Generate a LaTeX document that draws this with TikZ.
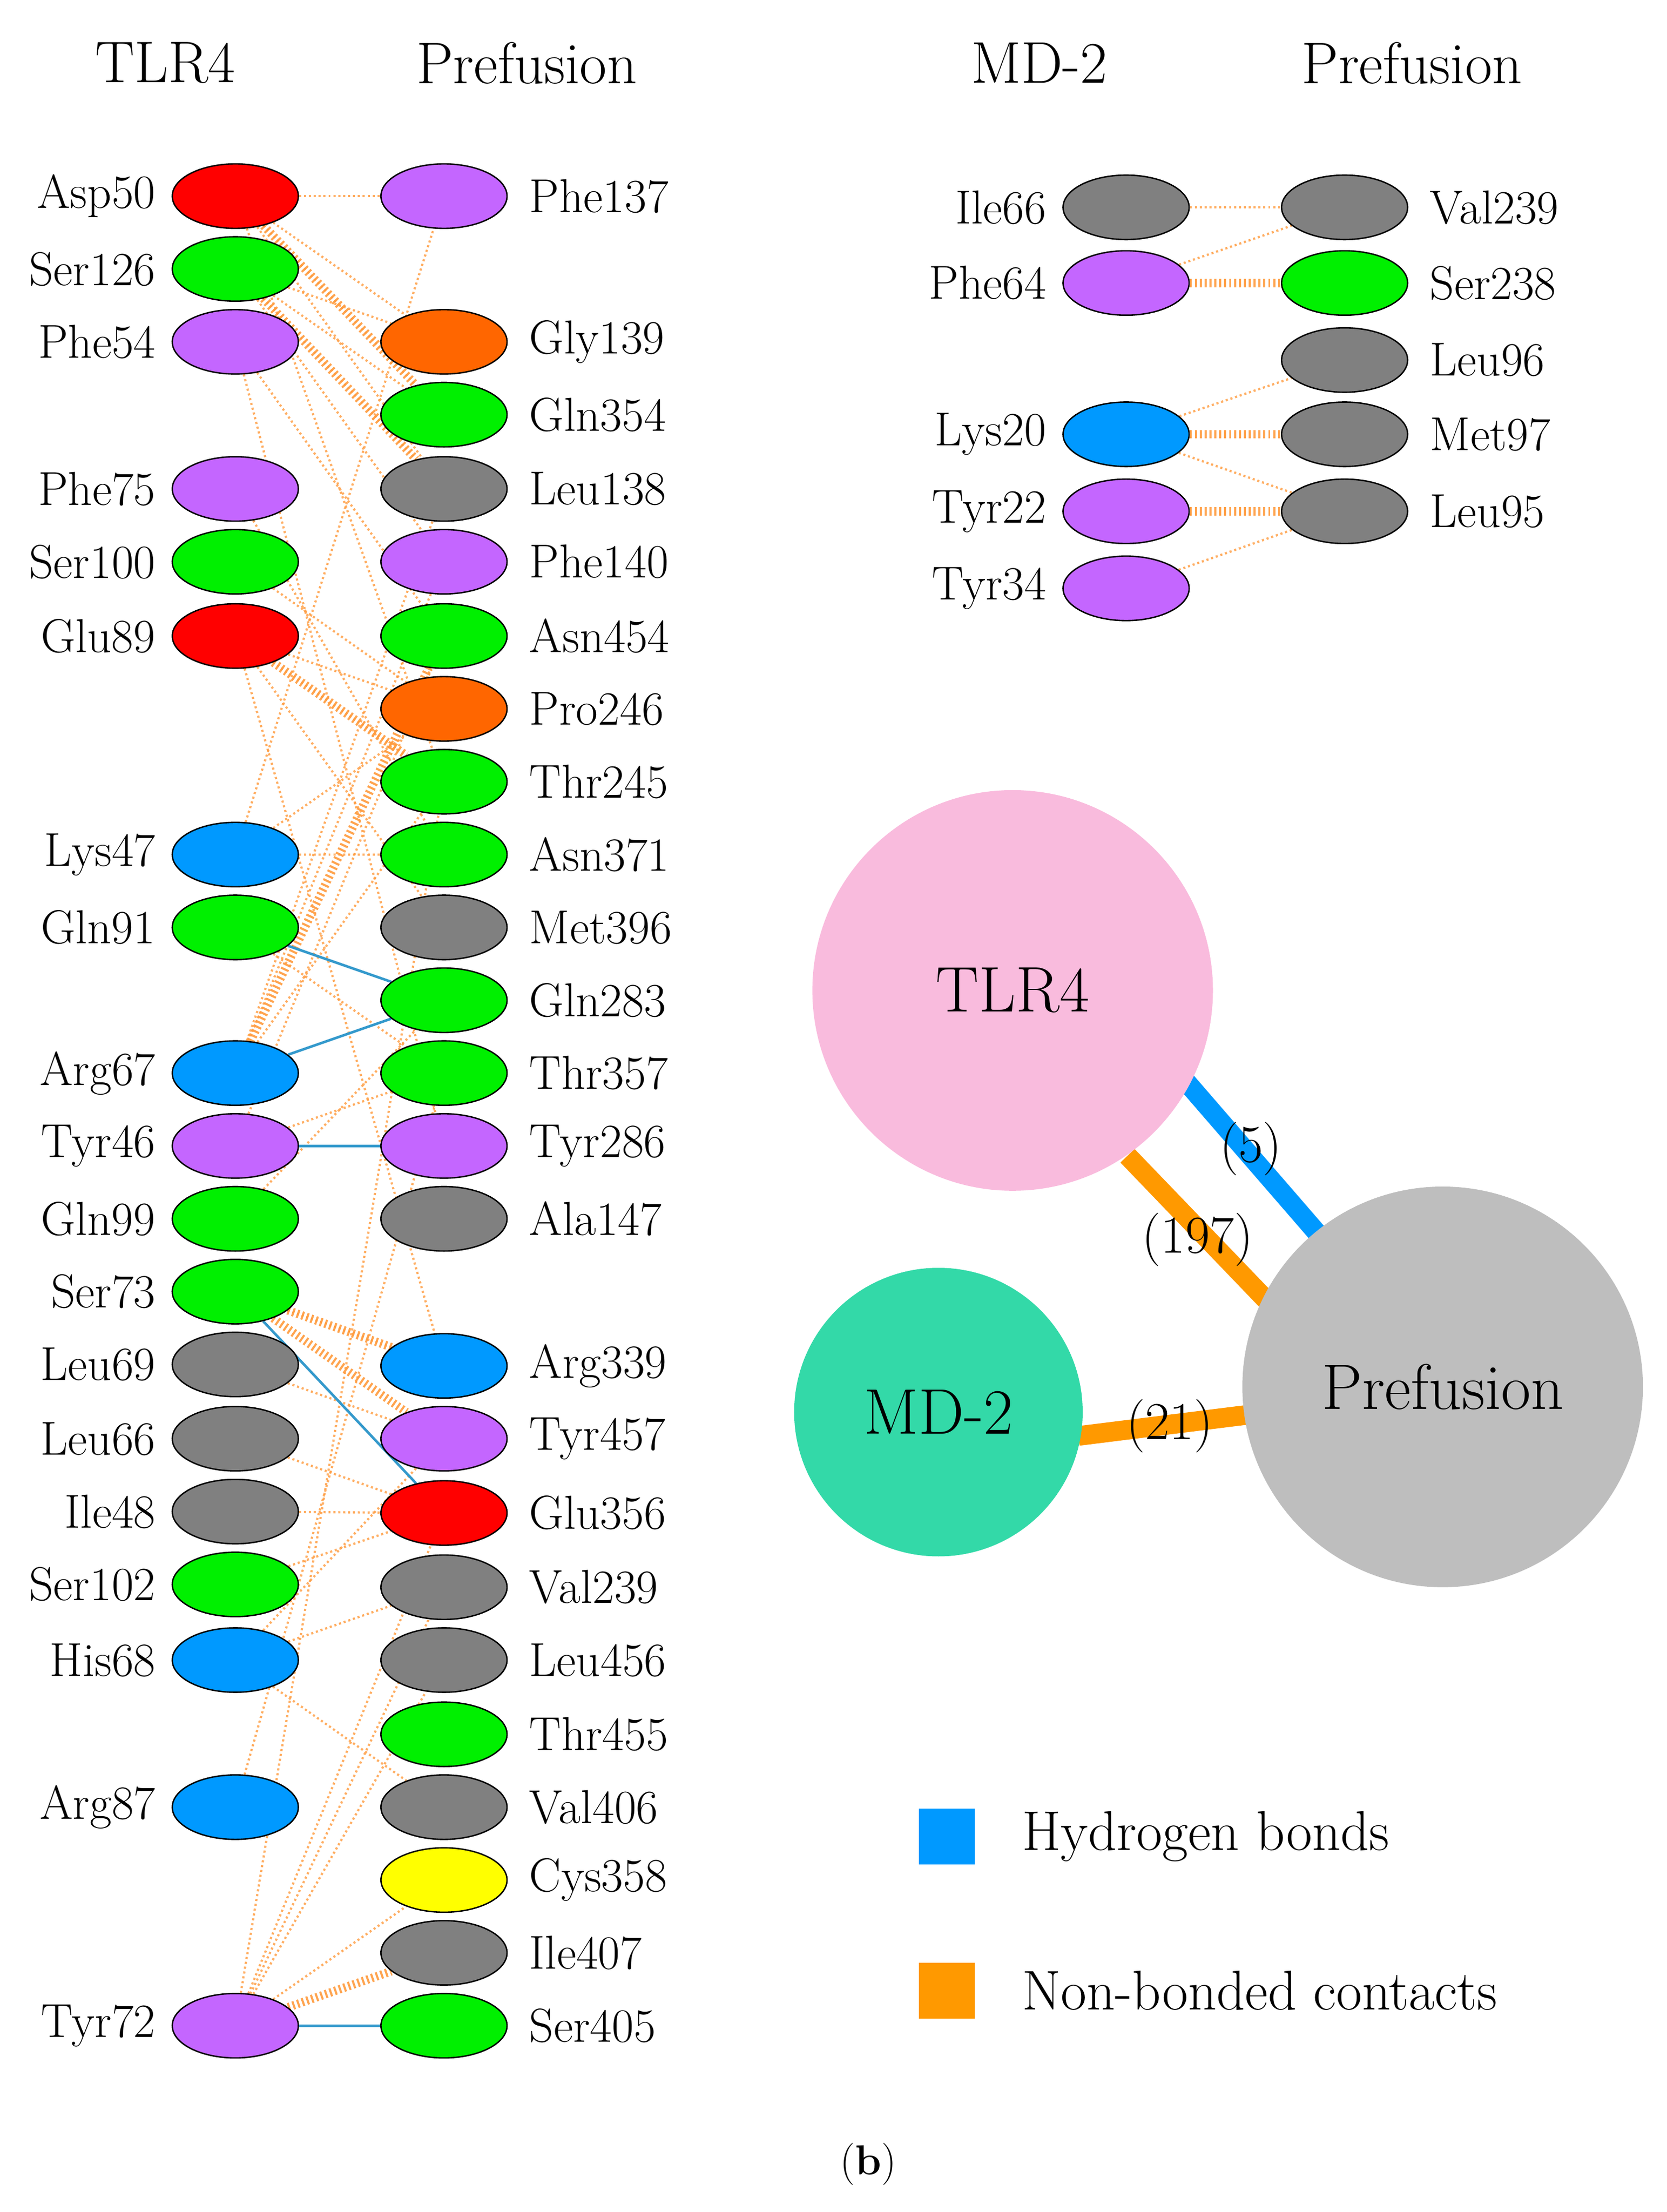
\documentclass[tikz,border=0pt]{standalone}
\usepackage{tikz}
\usetikzlibrary{positioning, arrows.meta, calc, shapes.geometric, backgrounds}

\definecolor{cRed}{HTML}{FF0000}
\definecolor{cGrn}{HTML}{00F000}
\definecolor{cPur}{HTML}{C466FF}
\definecolor{cGry}{HTML}{808080}
\definecolor{cOrg}{HTML}{FF6600}
\definecolor{cBlu}{HTML}{0099FF}
\definecolor{cYel}{HTML}{FFFF00}
\definecolor{cCon}{HTML}{FF9A3C}
\definecolor{cHyd}{HTML}{3399CC}
\definecolor{cPink}{HTML}{F9BBDD}
\definecolor{cMd}{HTML}{33D9A8}
\definecolor{cPre}{HTML}{BEBEBE}
\definecolor{cLegO}{HTML}{FF9900}
\definecolor{cLegB}{HTML}{0099FF}

\begin{document}
\begin{tikzpicture}[x=1pt, y=-1pt,
	res/.style={draw=black, ellipse, minimum width=90pt, minimum height=46pt, inner sep=0, line width=1pt},
	lft/.style={label={[label distance=8pt, font=\fontsize{34}{40}\selectfont]left:#1}},
	rgt/.style={label={[label distance=12pt, font=\fontsize{34}{40}\selectfont]right:#1}},
	con/.style={cCon, line width=1.6pt, dash pattern=on 1.5pt off 2pt, opacity=0.8},
	conb/.style={cCon, line width=6pt, dash pattern=on 1.5pt off 2pt, opacity=0.9},
	hyd/.style={cHyd, line width=1.8pt},
	head/.style={font=\fontsize{42}{50}\selectfont},
	num/.style={font=\fontsize{38}{44}\selectfont},
	ball/.style={circle, inner sep=0, font=\fontsize{46}{54}\selectfont}]

	\useasboundingbox (0,0) rectangle (1190,1579);

	% headers
	\node (h tlr) [head] at (118,45) {TLR4};
	\node (h pre) [head] at (376,45) {Prefusion};
	\node (h md) [head] at (742,45) {MD-2};
	\node (h pre2) [head] at (1008,45) {Prefusion};

	% TLR4 residues
	\foreach \n/\y/\c in {Asp50/140/cRed, Ser126/192/cGrn, Phe54/244/cPur, Phe75/349/cPur,
		Ser100/401/cGrn, Glu89/454/cRed, Lys47/610/cBlu, Gln91/662/cGrn, Arg67/766/cBlu,
		Tyr46/818/cPur, Gln99/870/cGrn, Ser73/922/cGrn, Leu69/974/cGry, Leu66/1027/cGry,
		Ile48/1079/cGry, Ser102/1131/cGrn, His68/1185/cBlu, Arg87/1290/cBlu, Tyr72/1446/cPur}
		\node (t \n) [res, fill=\c, lft=\n] at (168,\y) {};

	% Prefusion residues
	\foreach \n/\y/\c in {Phe137/140/cPur, Gly139/244/cOrg, Gln354/296/cGrn, Leu138/349/cGry,
		Phe140/401/cPur, Asn454/454/cGrn, Pro246/506/cOrg, Thr245/558/cGrn, Asn371/610/cGrn,
		Met396/662/cGry, Gln283/714/cGrn, Thr357/766/cGrn, Tyr286/818/cPur, Ala147/870/cGry,
		Arg339/975/cBlu, Tyr457/1027/cPur, Glu356/1080/cRed, Val239/1133/cGry, Leu456/1185/cGry,
		Thr455/1238/cGrn, Val406/1290/cGry, Cys358/1342/cYel, Ile407/1394/cGry, Ser405/1446/cGrn}
		\node (p \n) [res, fill=\c, rgt=\n] at (317,\y) {};

	% MD-2 panel
	\foreach \n/\y/\c in {Ile66/148/cGry, Phe64/202/cPur, Lys20/310/cBlu, Tyr22/365/cPur, Tyr34/420/cPur}
		\node (m \n) [res, fill=\c, lft=\n] at (804,\y) {};
	\foreach \n/\y/\c in {Val239/148/cGry, Ser238/202/cGrn, Leu96/257/cGry, Met97/310/cGry, Leu95/365/cGry}
		\node (q \n) [res, fill=\c, rgt=\n] at (960,\y) {};

	\begin{pgfonlayer}{background}
	% non-bonded contacts, TLR4
	\foreach \a/\b in {Asp50/Phe137, Asp50/Gly139, Asp50/Gln354, Asp50/Leu138, Asp50/Thr245,
		Ser126/Gly139, Ser126/Gln354, Ser126/Leu138, Ser126/Phe140, Phe54/Asn454, Phe54/Tyr286,
		Phe75/Asn371, Ser100/Pro246, Glu89/Thr245, Glu89/Pro246, Glu89/Arg339, Glu89/Met396,
		Lys47/Phe137, Lys47/Asn371, Lys47/Pro246, Gln91/Thr357, Arg67/Leu138, Arg67/Phe140,
		Arg67/Thr245, Tyr46/Thr357, Tyr46/Asn454, Gln99/Gln283, Ser73/Arg339, Ser73/Glu356,
		Leu69/Tyr457, Leu66/Glu356, Ile48/Glu356, Ser102/Glu356, His68/Tyr457, His68/Val239,
		His68/Val406, Arg87/Thr357, Tyr72/Glu356, Tyr72/Val239, Tyr72/Thr245, Tyr72/Cys358,
		Tyr72/Leu456}
		\draw [con] (t \a) -- (p \b);
	\foreach \a/\b in {Asp50/Gln354, Ser126/Leu138, Glu89/Thr245, Ser73/Arg339, Ser73/Tyr457, Tyr72/Ile407, Arg67/Asn454}
		\draw [conb] (t \a) -- (p \b);
	% hydrogen bonds, TLR4
	\foreach \a/\b in {Gln91/Gln283, Arg67/Gln283, Tyr46/Tyr286, Ser73/Glu356, Tyr72/Ser405}
		\draw [hyd] (t \a) -- (p \b);
	% MD-2 contacts
	\foreach \a/\b in {Ile66/Val239, Phe64/Val239, Lys20/Leu96, Lys20/Leu95, Tyr34/Leu95}
		\draw [con] (m \a) -- (q \b);
	\foreach \a/\b in {Phe64/Ser238, Lys20/Met97, Tyr22/Leu95}
		\draw [conb] (m \a) -- (q \b);
	\end{pgfonlayer}

	% summary network
	\node (n tlr) [ball, fill=cPink, minimum size=286pt] at (723,707) {TLR4};
	\node (n pre) [ball, fill=cPre, minimum size=286pt] at (1030,990) {Prefusion};
	\node (n md) [ball, fill=cMd, minimum size=206pt] at (670,1008) {MD-2};
	\coordinate (hb a) at (845,770);
	\coordinate (hb b) at (942,882);
	\coordinate (nb a) at (805,825);
	\coordinate (nb b) at (906,930);
	\coordinate (md a) at (770,1025);
	\coordinate (md b) at (890,1010);
	\begin{pgfonlayer}{background}
	\draw [cLegB, line width=14pt] (hb a) -- (hb b);
	\draw [cLegO, line width=14pt] (nb a) -- (nb b);
	\draw [cLegO, line width=14pt] (md a) -- (md b);
	\end{pgfonlayer}
	\node (l hb) [num] at (893,820) {(5)};
	\node (l nb) [num] at (855,885) {(197)};
	\node (l md) [num] at (835,1018) {(21)};

	% legend
	\node (k hb) [fill=cLegB, minimum size=40pt, inner sep=0] at (676,1311) {};
	\node (k hb t) [right=30pt of k hb, font=\fontsize{40}{48}\selectfont] {Hydrogen bonds};
	\node (k nb) [fill=cLegO, minimum size=40pt, inner sep=0] at (676,1421) {};
	\node (k nb t) [right=30pt of k nb, font=\fontsize{40}{48}\selectfont] {Non-bonded contacts};

	\node (cap) [font=\fontsize{30}{36}\selectfont] at (620,1545) {(\textbf{b})};
\end{tikzpicture}
\end{document}
